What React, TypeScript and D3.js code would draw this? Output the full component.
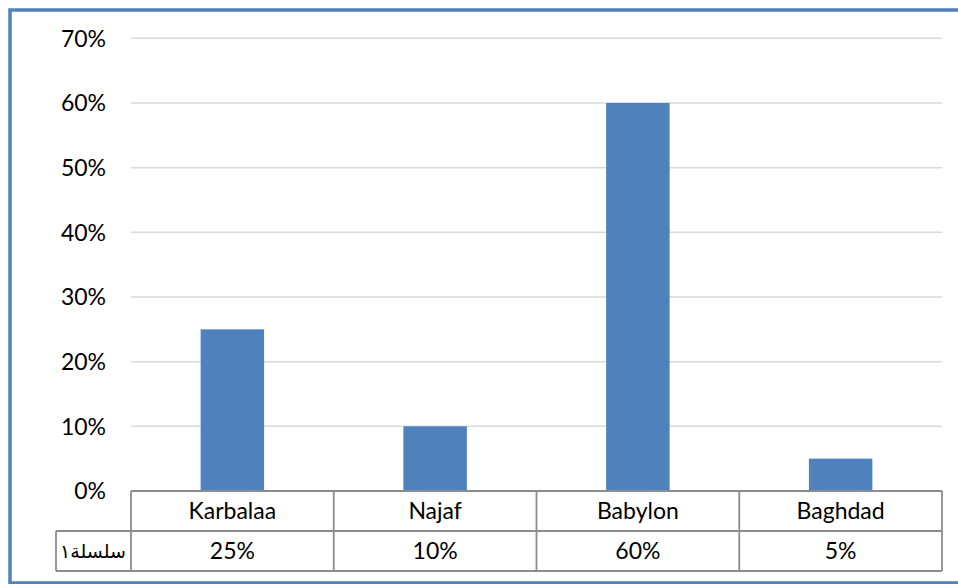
import { scaleBand, scaleLinear } from "d3";

const categories = ["Karbalaa", "Najaf", "Babylon", "Baghdad"];
const values = [0.25, 0.1, 0.6, 0.05];
const valueLabels = ["25%", "10%", "60%", "5%"];
const yTicks = [0, 0.1, 0.2, 0.3, 0.4, 0.5, 0.6, 0.7];
const seriesName = "سلسلة١";

const W = 958;
const H = 584;
const plotLeft = 131;
const plotRight = 942;
const plotTop = 38.3;
const plotBottom = 491;
const rowH = 40;

export default function App() {
  const x = scaleBand<string>().domain(categories).range([plotLeft, plotRight]).padding(0);
  const y = scaleLinear().domain([0, 0.7]).range([plotBottom, plotTop]);
  const barW = x.bandwidth() * 0.313;
  const font = "Lato, 'Open Sans', sans-serif";
  const tableStroke = "#8c8c8c";
  const row1 = plotBottom + rowH;
  const row2 = row1 + rowH;

  return (
    <svg
      width={W}
      height={H}
      style={{ position: "absolute", left: 0, top: 0, background: "#fff" }}
    >
      {/* outer frame */}
      <rect x={10} y={10} width={W + 20} height={H - 11} fill="#fff" stroke="#4f81bd" strokeWidth={3.5} />

      {/* grid */}
      {yTicks.map((t) => (
        <line
          key={t}
          x1={plotLeft}
          x2={plotRight}
          y1={y(t)}
          y2={y(t)}
          stroke="#d9d9d9"
          strokeWidth={1.5}
        />
      ))}

      {/* y labels */}
      {yTicks.map((t) => (
        <text
          key={"l" + t}
          x={106}
          y={y(t)}
          dy="0.36em"
          textAnchor="end"
          fontFamily={font}
          fontSize={23}
          fill="#000"
        >
          {Math.round(t * 100)}%
        </text>
      ))}

      {/* bars */}
      {categories.map((c, i) => (
        <rect
          key={c}
          x={(x(c) ?? 0) + (x.bandwidth() - barW) / 2}
          y={y(values[i])}
          width={barW}
          height={plotBottom - y(values[i])}
          fill="#4f81bd"
        />
      ))}

      {/* data table */}
      <g stroke={tableStroke} strokeWidth={1.8} fill="none">
        <line x1={plotLeft} x2={plotRight} y1={plotBottom} y2={plotBottom} />
        <line x1={56} x2={plotRight} y1={row1} y2={row1} />
        <line x1={56} x2={plotRight} y1={row2} y2={row2} />
        <line x1={56} x2={56} y1={row1} y2={row2} />
        {categories.map((c) => (
          <line key={c} x1={x(c)} x2={x(c)} y1={plotBottom} y2={row2} />
        ))}
        <line x1={plotRight} x2={plotRight} y1={plotBottom} y2={row2} />
      </g>

      {categories.map((c, i) => (
        <g key={"t" + c} fontFamily={font} fontSize={23} fill="#000" textAnchor="middle">
          <text x={(x(c) ?? 0) + x.bandwidth() / 2} y={plotBottom + rowH / 2} dy="0.36em">
            {c}
          </text>
          <text x={(x(c) ?? 0) + x.bandwidth() / 2} y={row1 + rowH / 2} dy="0.36em">
            {valueLabels[i]}
          </text>
        </g>
      ))}

      <text
        x={93}
        y={row1 + rowH / 2}
        dy="0.36em"
        textAnchor="middle"
        fontFamily="'DejaVu Sans', sans-serif"
        fontSize={19}
        fill="#000"
      >
        {seriesName}
      </text>
    </svg>
  );
}
